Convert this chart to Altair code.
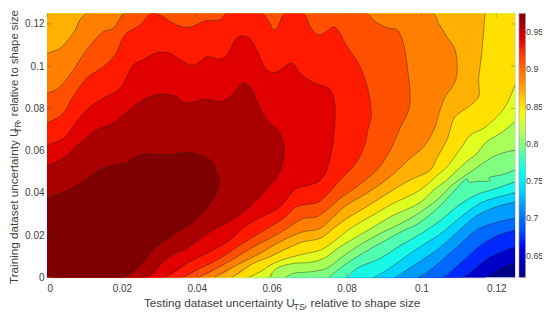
import altair as alt
import pandas as pd

# contour lines in data units, from highest level to lowest: x values, y values
c1x = [0,.0053,.0097,.0142,.0177,.0213,.0231,.0257,.0320,.0382,.0418,.0436,.0453,.0460,.0453,.0427,.0391,.0338,.0293,.0249,.0204]
c1y = [.0376,.0411,.0455,.0510,.0531,.0542,.0565,.0583,.0580,.0591,.0571,.0557,.0502,.0452,.0399,.0328,.0265,.0202,.0147,.0060,0]
c2x = [0,.0044,.0088,.0133,.0177,.0204,.0231,.0266,.0302,.0338,.0373,.0409,.0431,.0462,.0489,.0525,.0543,.0560,.0578,.0600,.0616,.0632,.0633,.0627,.0614,.0596,.0560,.0507,.0436,.0378,.0320,.0266]
c2y = [.0526,.0565,.0635,.0698,.0730,.0769,.0808,.0848,.0867,.0862,.0824,.0840,.0843,.0831,.0856,.0919,.0900,.0840,.0769,.0722,.0698,.0635,.0587,.0524,.0477,.0437,.0366,.0287,.0216,.0145,.0090,0]
c3x = [0,.0044,.0079,.0115,.0159,.0195,.0231,.0257,.0293,.0329,.0355,.0382,.0400,.0427,.0462,.0480,.0511,.0538,.0560,.0587,.0609,.0654,.0676,.0716,.0752,.0765,.0770,.0765,.0761,.0747,.0730,.0703,.0667,.0645,.0623,.0596,.0534,.0489,.0436,.0373,.0315]
c3y = [.0627,.0658,.0737,.0808,.0856,.0895,.1006,.1030,.1064,.1061,.1030,.1006,.1011,.1045,.1034,.1053,.1140,.1137,.1077,.0982,.0970,.1014,.0966,.0919,.0895,.0856,.0777,.0666,.0603,.0508,.0461,.0437,.0422,.0382,.0335,.0306,.0248,.0177,.0122,.0066,0]
c4x = [0,.0039,.0070,.0106,.0151,.0182,.0208,.0249,.0282,.0347,.0378,.0427,.0462,.0480,.0574,.0609,.0636,.0685,.0703,.0725,.0747,.0765,.0783,.0796,.0832,.0850,.0863,.0866,.0857,.0850,.0828,.0783,.0747,.0721,.0667,.0632,.0596,.0560,.0516,.0462,.0409,.0360]
c4y = [.0733,.0769,.0856,.0943,.0998,.1053,.1148,.1195,.1251,.1195,.1184,.1216,.1219,.1251,.1251,.1172,.1251,.1251,.1187,.1148,.1164,.1187,.1156,.1108,.1014,.0935,.0840,.0761,.0698,.0635,.0548,.0461,.0390,.0354,.0335,.0279,.0240,.0201,.0153,.0090,.0043,0]
c5x = [0,.0030,.0061,.0106,.0151,.0177,.0211,.0850,.0877,.0912,.0935,.0952,.0961,.0970,.0966,.0943,.0917,.0881,.0828,.0783,.0747,.0721,.0685,.0641,.0596,.0560,.0516,.0462,.0404]
c5y = [.0872,.0895,.0958,.1077,.1164,.1180,.1251,.1251,.1211,.1180,.1172,.1108,.1014,.0856,.0793,.0706,.0603,.0508,.0430,.0374,.0319,.0287,.0279,.0232,.0185,.0153,.0106,.0051,0]
c6x = [0,.0035,.0070,.0108,.1030,.1046,.1068,.1090,.1092,.1064,.1050,.1033,.1006,.0970,.0917,.0854,.0801,.0765,.0730,.0685,.0641,.0596,.0569,.0507,.0445]
c6y = [.1061,.1085,.1156,.1251,.1251,.1203,.1140,.1077,.0935,.0856,.0793,.0698,.0619,.0564,.0477,.0398,.0343,.0287,.0232,.0216,.0185,.0142,.0114,.0058,0]
c7x = [.1170,.1162,.1153,.1153,.1126,.1090,.1068,.1041,.1024,.0970,.0917,.0854,.0801,.0765,.0730,.0685,.0641,.0596,.0551,.0494]
c7y = [.1251,.1077,.0935,.0856,.0808,.0761,.0651,.0564,.0508,.0461,.0406,.0335,.0279,.0232,.0185,.0169,.0137,.0098,.0066,0]
c8x = [.1250,.1224,.1197,.1166,.1131,.1108,.1086,.1073,.1059,.1033,.0997,.0917,.0863,.0810,.0765,.0730,.0694,.0641,.0596,.0578,.0538]
c8y = [.0911,.0808,.0753,.0706,.0674,.0619,.0564,.0532,.0508,.0469,.0414,.0343,.0287,.0232,.0169,.0129,.0114,.0090,.0058,.0035,0]
c9x = [.1250,.1211,.1175,.1144,.1126,.1099,.1068,.1033,.0997,.0917,.0881,.0828,.0783,.0739,.0703,.0658,.0614,.0592]
c9y = [.0737,.0682,.0643,.0579,.0556,.0513,.0461,.0414,.0355,.0287,.0248,.0193,.0145,.0090,.0071,.0066,.0043,0]
c10x = [.1250,.1202,.1157,.1139,.1117,.1086,.1041,.0997,.0943,.0890,.0828,.0783,.0747,.0707,.0658,.0637]
c10y = [.0603,.0580,.0532,.0508,.0482,.0442,.0366,.0308,.0253,.0208,.0145,.0090,.0043,.0027,.0019,0]
c11x = [.1250,.1215,.1180,.1184,.1153,.1126,.1122,.1090,.1050,.0997,.0943,.0890,.0828,.0783,.0753]
c11y = [.0508,.0486,.0471,.0458,.0455,.0452,.0467,.0414,.0339,.0261,.0213,.0161,.0098,.0043,0]
c12x = [.1250,.1202,.1148,.1095,.1050,.0997,.0943,.0890,.0828,.0802]
c12y = [.0453,.0422,.0392,.0335,.0268,.0205,.0150,.0090,.0043,0]
c13x = [.1250,.1202,.1157,.1104,.1050,.0997,.0943,.0908,.0872]
c13y = [.0400,.0379,.0351,.0284,.0205,.0145,.0079,.0035,0]
c14x = [.1250,.1202,.1148,.1095,.1050,.0997,.0961,.0930]
c14y = [.0357,.0335,.0292,.0213,.0142,.0076,.0035,0]
c15x = [.1250,.1202,.1148,.1104,.1059,.1024,.0992]
c15y = [.0281,.0261,.0226,.0158,.0087,.0035,0]
c16x = [.1250,.1202,.1157,.1122,.1086,.1056]
c16y = [.0224,.0197,.0150,.0095,.0039,0]
c17x = [.1250,.1215,.1175,.1139,.1109]
c17y = [.0144,.0122,.0087,.0035,0]
c18x = [.1250,.1215,.1171]
c18y = [.0068,.0044,0]

contours_x = [c1x,c2x,c3x,c4x,c5x,c6x,c7x,c8x,c9x,c10x,c11x,c12x,c13x,c14x,c15x,c16x,c17x,c18x]
contours_y = [c1y,c2y,c3y,c4y,c5y,c6y,c7y,c8y,c9y,c10y,c11y,c12y,c13y,c14y,c15y,c16y,c17y,c18y]
band_colors = ["#7f0000","#aa0000","#e00000","#ff1a00","#ff5000","#ff8000","#ffb000","#ffe000",
               "#e0ff20","#a8ff58","#80ff80","#50ffb0","#18f8e8","#00d4ff","#009cff","#0068ff","#0028ff","#0000c8"]
background_color = "#000088"
jet = ["#000080","#0000ff","#0080ff","#00ffff","#80ff80","#ffff00","#ff8000","#ff0000","#800000"]
xticks = [0,.02,.04,.06,.08,.1,.12]
yticks = [0,.02,.04,.06,.08,.1,.12]
cbar_ticks = [.65,.7,.75,.8,.85,.9,.95]

W, H = 468, 264
XS = alt.Scale(domain=[0,.125], nice=False, zero=False)
YS = alt.Scale(domain=[0,.125], nice=False, zero=False)
INK = "#404040"
FONT = "Liberation Sans"
CURVE = "catmull-rom"

def closure(i):
    if i < 6:  # left edge to bottom edge
        return [(0,0)]
    if i == 6:  # top edge to bottom edge
        return [(0,0),(0,.1251)]
    return [(0,0),(0,.1251),(.1251,.1251)]

layers = []
base = pd.DataFrame({"x":[0,.1251,.1251,0],"y":[0,0,.1251,.1251],"o":[0,1,2,3]})
layers.append(alt.Chart(base).mark_line(fill=background_color, strokeWidth=0, clip=True).encode(
    x=alt.X("x:Q", scale=XS, axis=alt.Axis(values=xticks, format=".2~f", ticks=False, domain=False, grid=False, title=None,
                                           labelFont=FONT, labelFontSize=10, labelColor=INK, labelPadding=6)),
    y=alt.Y("y:Q", scale=YS, axis=alt.Axis(values=yticks, format=".2~f", ticks=False, domain=False, grid=False, title=None,
                                           labelFont=FONT, labelFontSize=10, labelColor=INK, labelPadding=3)),
    order="o:Q"))

for i in range(17, -1, -1):
    xs, ys = contours_x[i], contours_y[i]
    ext = closure(i)
    poly = pd.DataFrame({"x": xs+[p[0] for p in ext], "y": ys+[p[1] for p in ext]})
    poly["o"] = range(len(poly))
    layers.append(alt.Chart(poly).mark_line(fill=band_colors[i], strokeWidth=0, clip=True, interpolate=CURVE).encode(
        x=alt.X("x:Q", scale=XS), y=alt.Y("y:Q", scale=YS), order="o:Q"))
for i in range(17, -1, -1):
    line = pd.DataFrame({"x": contours_x[i], "y": contours_y[i]})
    line["o"] = range(len(line))
    layers.append(alt.Chart(line).mark_line(color="#202020", strokeWidth=.7, opacity=.6, clip=True, interpolate=CURVE).encode(
        x=alt.X("x:Q", scale=XS), y=alt.Y("y:Q", scale=YS), order="o:Q"))

# inward ticks on all four sides
tx = pd.DataFrame({"v": xticks})
ty = pd.DataFrame({"v": yticks})
tick = dict(color=INK, strokeWidth=.6, opacity=.55)
layers.append(alt.Chart(tx).mark_rule(**tick).encode(x=alt.X("v:Q", scale=XS), y=alt.value(H), y2=alt.value(H-4)))
layers.append(alt.Chart(tx).mark_rule(**tick).encode(x=alt.X("v:Q", scale=XS), y=alt.value(0), y2=alt.value(4)))
layers.append(alt.Chart(ty).mark_rule(**tick).encode(y=alt.Y("v:Q", scale=YS), x=alt.value(0), x2=alt.value(4)))
layers.append(alt.Chart(ty).mark_rule(**tick).encode(y=alt.Y("v:Q", scale=YS), x=alt.value(W), x2=alt.value(W-4)))

# colour bar as a gradient legend
cb = pd.DataFrame({"c": [.621,.975]})
layers.append(alt.Chart(cb).mark_point(opacity=0).encode(
    x=alt.value(0), y=alt.value(0),
    color=alt.Color("c:Q", scale=alt.Scale(domain=[.621,.975], range=jet, nice=False, zero=False),
        legend=alt.Legend(orient="none", legendX=W+4, legendY=0, title=None, direction="vertical",
                          gradientLength=H, gradientThickness=6.5, values=cbar_ticks, format=".2~f",
                          labelFont=FONT, labelFontSize=8.9, labelColor=INK, labelOffset=0.5,
                          gradientStrokeColor="#9a9a9a", gradientStrokeWidth=.6))))

def txt(t, x, y, size=11.7, angle=0):
    return alt.Chart(pd.DataFrame({"t":[t]})).mark_text(font=FONT, fontSize=size, color=INK, align="left",
        baseline="alphabetic", angle=angle, clip=False).encode(text="t:N", x=alt.value(x), y=alt.value(y))

layers += [
    txt("Testing dataset uncertainty U", 97, 293.5),
    txt("TS", 246.5, 297, 9),
    txt(", relative to shape size", 257, 293.5),
    txt("Training dataset uncertainty U", -29.5, 270.6, angle=270),
    txt("TR", -26, 119.5, 9, angle=270),
    txt(", relative to shape size", -29.5, 109, 11.3, angle=270),
]

chart = alt.layer(*layers).resolve_scale(color="independent").properties(
    width=W, height=H,
    padding={"left":39,"top":5.4,"right":27,"bottom":35},
    autosize=alt.AutoSizeParams(type="none"),
).configure_view(stroke="#9a9a9a", strokeWidth=1).configure(background="white")

chart.save("out.html", embed_options={"renderer": "svg", "actions": False})
